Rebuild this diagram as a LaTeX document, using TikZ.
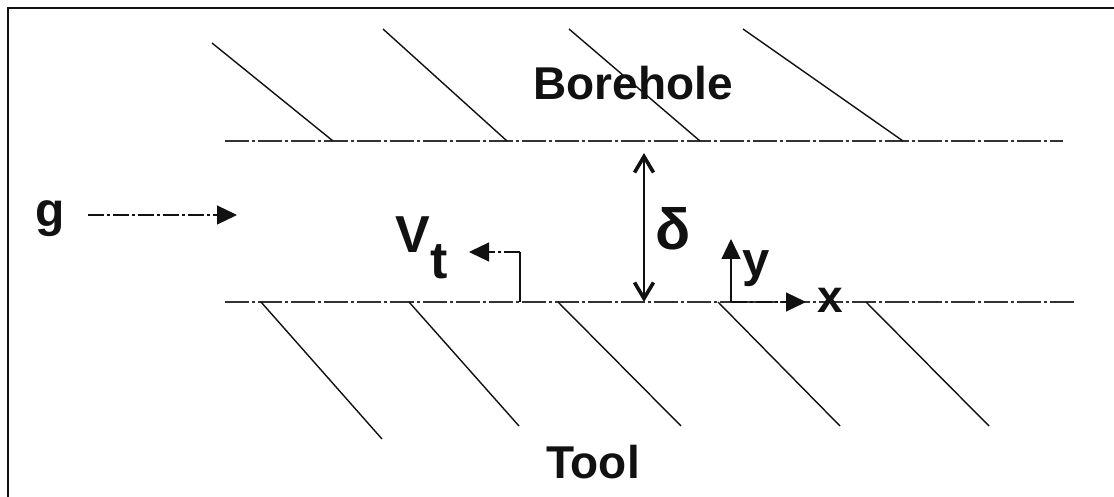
\documentclass[tikz,border=0pt]{standalone}
\usepackage{fontspec}
\setmainfont{Liberation Sans}
\usepackage{tikz}
\usetikzlibrary{arrows.meta}
\definecolor{Ink}{HTML}{111111}
\definecolor{Wall}{HTML}{333333}

\begin{document}
\begin{tikzpicture}[
  x=0.5pt, y=-0.5pt,
  label/.style={font=\bfseries\fontsize{23pt}{27pt}\selectfont, text=Ink, inner sep=0pt, anchor=base},
  frame/.style={draw=Ink, line width=1pt},
  wall/.style={draw=Wall, line width=0.75pt, dash pattern=on 12pt off 1.5pt on 1.5pt off 1.5pt},
  hatch/.style={draw=Ink, line width=0.7pt},
  dashdot/.style={dash pattern=on 8pt off 1.5pt on 1.5pt off 1.5pt},
  tri/.style={-{Triangle[length=10pt, width=9.5pt]}, draw=Ink, line width=0.6pt},
  gap/.style={{Straight Barb[length=8pt, width=9.5pt, line width=1.8pt]}-{Straight Barb[length=8pt, width=9.5pt, line width=1.8pt]}, draw=Ink, line width=0.6pt}
]
\useasboundingbox (0,0) rectangle (1114,497);
\draw[frame] (1114,8) -- (8,8) -- (8,497);

\draw[wall] (225,141) -- (1063,141);
\draw[wall] (225,302) -- (1077,302);

\draw[hatch] (212,43) -- (333,141);
\draw[hatch] (383,29) -- (507,141);
\draw[hatch] (569,29) -- (700,141);
\draw[hatch] (743,29) -- (903,141);

\draw[hatch] (261,302) -- (382,439);
\draw[hatch] (409,302) -- (519,426);
\draw[hatch] (558,302) -- (681,426);
\draw[hatch] (718,302) -- (840,426);
\draw[hatch] (866,302) -- (989,426);

\node[label] (borehole) at (633,100) {Borehole};
\node[label] (tool) at (593,478) {Tool};
\node[label, font=\bfseries\fontsize{24pt}{28pt}\selectfont] (gravity) at (50,227) {g};
\node[label, anchor=base west, font=\bfseries\fontsize{26pt}{30pt}\selectfont] (velocity) at (395,253) {V\raisebox{-13pt}{t}};
\node[label, font=\bfseries\fontsize{29pt}{34pt}\selectfont] (delta) at (673,250) {δ};
\node[label, font=\bfseries\fontsize{24.5pt}{28pt}\selectfont] (ylabel) at (756,277) {y};
\node[label] (xlabel) at (830,313) {x};

\coordinate (gstart) at (88,215);
\coordinate (gtip) at (237,215);
\coordinate (vfoot) at (520,302);
\coordinate (vcorner) at (520,252);
\coordinate (vtip) at (469,252);
\coordinate (dtop) at (644,153);
\coordinate (dbot) at (644,302);
\coordinate (origin) at (731,302);
\coordinate (ytip) at (731,239);
\coordinate (xtip) at (806,302);

\draw[tri, dashdot] (gstart) -- (gtip);
\draw[draw=Ink, line width=0.6pt] (vfoot) -- (vcorner);
\draw[tri, dashdot] (vcorner) -- (vtip);
\draw[gap] (dtop) -- (dbot);
\draw[tri] (origin) -- (ytip);
\draw[tri, dashdot] (origin) -- (xtip);
\end{tikzpicture}
\end{document}
